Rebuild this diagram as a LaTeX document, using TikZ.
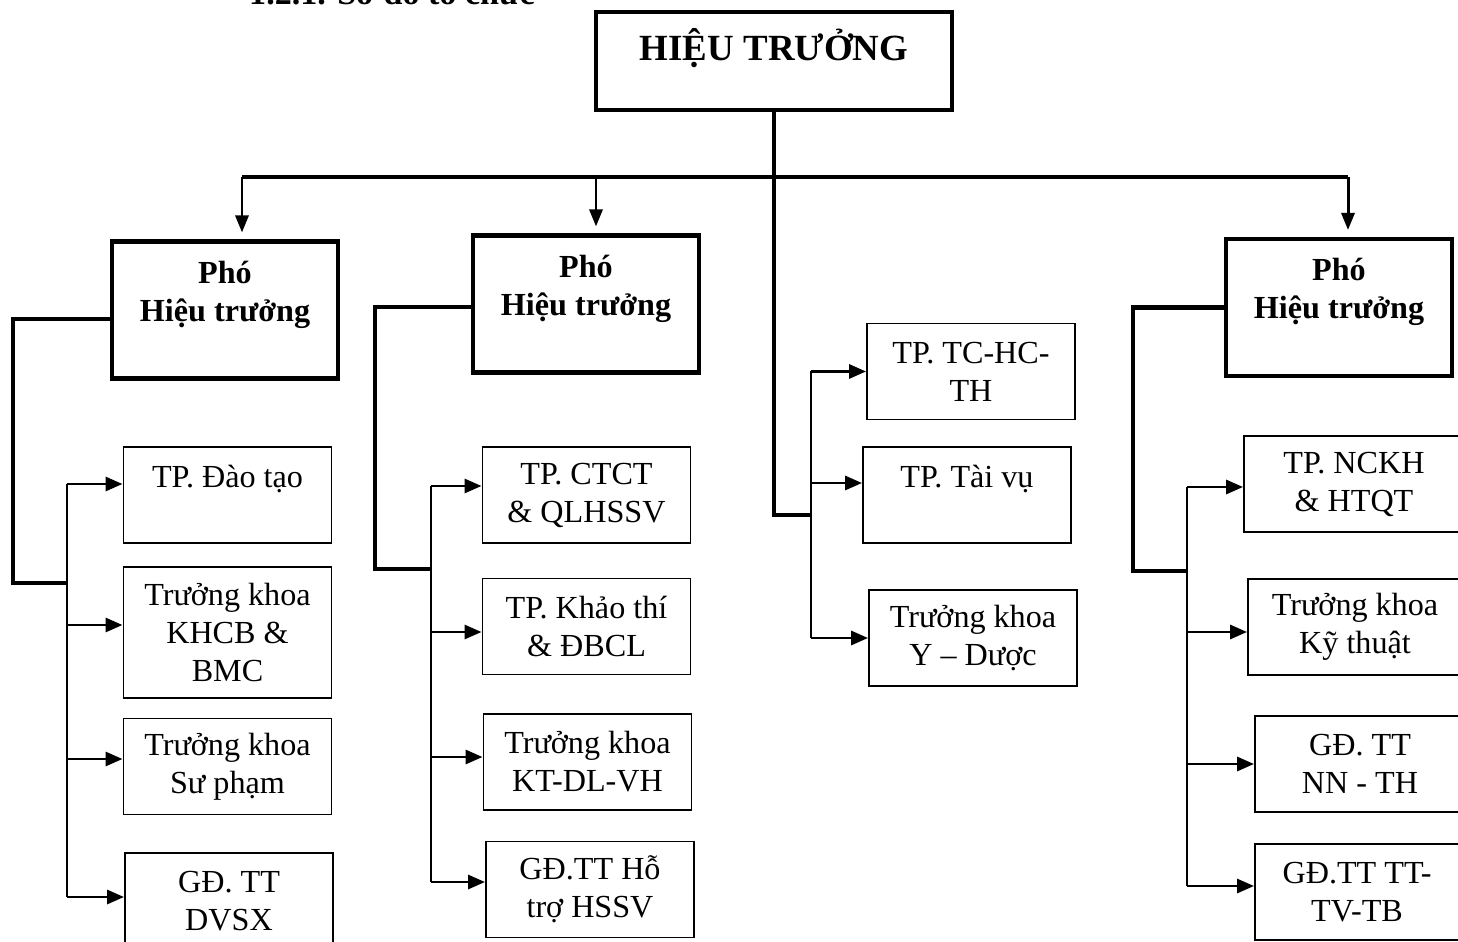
\documentclass[tikz,border=0pt]{standalone}
\usepackage{fontspec}
\setmainfont{Liberation Serif}
\usepackage{tikz}
\usetikzlibrary{arrows.meta, positioning}

\begin{document}
\begin{tikzpicture}[
    x=0.02cm, y=-0.02cm,
    unit/.style={draw, line width=1.1pt, align=center, inner sep=0pt, minimum width=4.16cm, minimum height=1.92cm, font=\fontsize{18.3}{21.6}\selectfont},
    head/.style={draw, line width=2.3pt, align=center, inner sep=0pt, minimum width=4.52cm, minimum height=2.74cm, font=\bfseries\fontsize{18.3}{21.6}\selectfont},
    trunk/.style={line width=2.3pt},
    spine/.style={line width=1.4pt},
    feed/.style={line width=1.7pt, -{Triangle[length=0.34cm, width=0.28cm]}},
    drop/.style={line width=1.7pt, -{Triangle[length=0.34cm, width=0.26cm]}, shorten >=0.14cm}
]
\useasboundingbox (0,0) rectangle (1458,942);
\clip (0,0) rectangle (1458,942);

\node[anchor=base west, font=\bfseries\fontsize{19.4}{23}\selectfont] (title) at (243,5) {1.2.1. Sơ đồ tổ chức};

\node[head, minimum width=7.12cm, minimum height=1.96cm, font=\bfseries\fontsize{21}{25}\selectfont, text height=0.45cm, text depth=0.45cm] (ht) at (774,61) {HIỆU TRƯỞNG};

\node[head] (pho1) at (225,310) {Phó\\Hiệu trưởng\\~};
\node[head] (pho2) at (586,304) {Phó\\Hiệu trưởng\\~};
\node[head] (pho3) at (1339,307.5) {Phó\\Hiệu trưởng\\~};

\node[unit] (daotao) at (227.5,495) {TP. Đào tạo\\~};
\node[unit, minimum height=2.62cm] (khcb) at (227.5,632.5) {Trưởng khoa\\KHCB \&\\BMC};
\node[unit] (supham) at (227.5,766.5) {Trưởng khoa\\Sư phạm};
\node[unit] (dvsx) at (229,901) {GĐ. TT\\DVSX};

\node[unit] (ctct) at (586.5,495) {TP. CTCT\\\& QLHSSV};
\node[unit] (khaothi) at (586.5,626.5) {TP. Khảo thí\\\& ĐBCL};
\node[unit] (ktdlvh) at (587.5,762) {Trưởng khoa\\KT-DL-VH};
\node[unit] (hotro) at (590,889.5) {GĐ.TT Hỗ\\trợ HSSV};

\node[unit] (tchc) at (971,371.5) {TP. TC-HC-\\TH};
\node[unit] (taivu) at (967,495) {TP. Tài vụ\\~};
\node[unit] (yduoc) at (973,638) {Trưởng khoa\\Y – Dược};

\node[unit, minimum width=4.4cm] (nckh) at (1354,484) {TP. NCKH\\\& HTQT};
\node[unit, minimum width=4.28cm] (kythuat) at (1355,627) {Trưởng khoa\\Kỹ thuật};
\node[unit, minimum width=4.2cm] (nnth) at (1360,764) {GĐ. TT\\NN - TH};
\node[unit, minimum width=4.08cm] (tttvtb) at (1357,892) {GĐ.TT TT-\\TV-TB};

% hieu truong -> pho hieu truong
\coordinate (busL) at (242,177);
\coordinate (busM) at (596,177);
\coordinate (busR) at (1348,177);
\coordinate (hub) at (811,515);
\draw[trunk] (busL) -- (busR);
\draw[trunk] (ht.south) -- (ht.south |- hub) -- (hub);
\draw[drop] (busL) -- (busL |- pho1.north);
\draw[drop] (busM) -- (busM |- pho2.north);
\draw[drop] (busR) -- (busR |- pho3.north);

% phong ban truc thuoc hieu truong
\draw[spine] (hub |- tchc.west) -- (hub |- yduoc.west);
\draw[feed] (hub |- tchc.west) -- (tchc.west);
\draw[feed] (hub |- 0,483) -- (taivu.west |- 0,483);
\draw[feed] (hub |- yduoc.west) -- (yduoc.west);

% pho hieu truong 1
\coordinate (j1) at (67,583);
\draw[trunk] ([yshift=-0.18cm]pho1.west) -| (13,583) -- (j1);
\draw[spine] (j1 |- 0,484) -- (j1 |- 0,897);
\draw[feed] (j1 |- 0,484) -- (daotao.west |- 0,484);
\draw[feed] (j1 |- 0,625) -- (khcb.west |- 0,625);
\draw[feed] (j1 |- 0,759) -- (supham.west |- 0,759);
\draw[feed] (j1 |- 0,897) -- (dvsx.west |- 0,897);

% pho hieu truong 2
\coordinate (j2) at (431,569);
\draw[trunk] ([yshift=-0.06cm]pho2.west) -| (375,569) -- (j2);
\draw[spine] (j2 |- 0,486) -- (j2 |- 0,882);
\draw[feed] (j2 |- 0,486) -- (ctct.west |- 0,486);
\draw[feed] (j2 |- 0,632) -- (khaothi.west |- 0,632);
\draw[feed] (j2 |- 0,757) -- (ktdlvh.west |- 0,757);
\draw[feed] (j2 |- 0,882) -- (hotro.west |- 0,882);

% pho hieu truong 3
\coordinate (j3) at (1187,571);
\draw[trunk] (pho3.west) -| (1133,571) -- (j3);
\draw[spine] (j3 |- 0,487) -- (j3 |- 0,886);
\draw[feed] (j3 |- 0,487) -- (nckh.west |- 0,487);
\draw[feed] (j3 |- 0,632) -- (kythuat.west |- 0,632);
\draw[feed] (j3 |- 0,764) -- (nnth.west |- 0,764);
\draw[feed] (j3 |- 0,886) -- (tttvtb.west |- 0,886);
\end{tikzpicture}
\end{document}
